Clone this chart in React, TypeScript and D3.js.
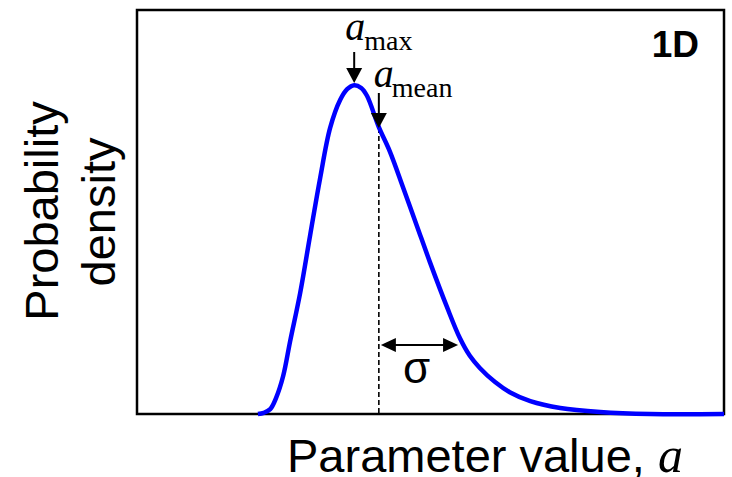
import React from "react";
import * as d3 from "d3";

// Parameter values (a) and the probability density read at each one
const paramValues = [2.06, 2.16, 2.27, 2.37, 2.49, 2.61, 2.78, 2.95, 3.12, 3.29, 3.46, 3.58, 3.7, 3.82, 3.92, 4.12, 4.31, 4.53, 4.77, 4.99, 5.28, 5.5, 5.67, 5.84, 6.1, 6.35, 6.7, 7.21, 7.89, 8.74, 10];
const densityValues = [0, 0.003, 0.012, 0.04, 0.094, 0.181, 0.3, 0.443, 0.584, 0.708, 0.777, 0.804, 0.814, 0.807, 0.787, 0.71, 0.649, 0.562, 0.465, 0.376, 0.265, 0.188, 0.144, 0.114, 0.079, 0.054, 0.032, 0.015, 0.005, 0, 0];

// Summary statistics marked on the curve
const aMax = 3.7;
const aMean = 4.12;
const sigma = 1.35;

const xDomain = [0, 10];
const yDomain = [0, 1];

const W = 732;
const H = 477;
const box = { left: 137, right: 724, top: 10, bottom: 414 };

const SANS = "'Liberation Sans', Arial, sans-serif";
const SERIF = "'Liberation Serif', 'Times New Roman', serif";

export default function App() {
  const x = d3.scaleLinear().domain(xDomain).range([box.left, box.right]);
  const y = d3.scaleLinear().domain(yDomain).range([box.bottom, box.top]);

  const points: [number, number][] = paramValues.map((a, i) => [a, densityValues[i]]);
  const line = d3
    .line<[number, number]>()
    .x((d) => x(d[0]))
    .y((d) => Math.min(y(d[1]), box.bottom))
    .curve(d3.curveCatmullRom.alpha(0.5));

  const xMax = x(aMax);
  const xMean = x(aMean);
  const xSigmaEnd = x(aMean + sigma);
  const sigmaY = 345;

  const downArrow = (cx: number, y0: number, tip: number) => (
    <g>
      <line x1={cx} x2={cx} y1={y0} y2={tip - 12} stroke="#000" strokeWidth={2} />
      <path d={`M${cx - 8},${tip - 15} L${cx + 8},${tip - 15} L${cx},${tip} Z`} fill="#000" />
    </g>
  );

  return (
    <svg
      width={W}
      height={H}
      style={{ position: "absolute", left: 0, top: 0, background: "#fff" }}
    >
      <rect x={0} y={0} width={W} height={H} fill="#fff" />

      {/* plot frame */}
      <rect
        x={box.left}
        y={box.top}
        width={box.right - box.left}
        height={box.bottom - box.top}
        fill="none"
        stroke="#000"
        strokeWidth={2.5}
      />

      {/* mean marker */}
      <line
        x1={xMean}
        x2={xMean}
        y1={128}
        y2={box.bottom}
        stroke="#000"
        strokeWidth={1.6}
        strokeDasharray="5,3"
      />

      {/* density curve */}
      <path d={line(points) ?? ""} fill="none" stroke="#0000ff" strokeWidth={4.5} strokeLinejoin="round" />

      {/* a_max label and arrow */}
      <text x={xMax - 9} y={40} fontFamily={SERIF} fontStyle="italic" fontSize={40}>
        a
      </text>
      <text x={xMax + 10} y={50} fontFamily={SERIF} fontSize={28}>
        max
      </text>
      {downArrow(xMax, 52, 83)}

      {/* a_mean label and arrow */}
      <text x={xMean - 5} y={87} fontFamily={SERIF} fontStyle="italic" fontSize={40}>
        a
      </text>
      <text x={xMean + 13} y={97} fontFamily={SERIF} fontSize={28}>
        mean
      </text>
      {downArrow(xMean, 93, 128)}

      {/* sigma double arrow */}
      <line x1={xMean + 12} x2={xSigmaEnd - 12} y1={sigmaY} y2={sigmaY} stroke="#000" strokeWidth={2} />
      <path
        d={`M${xMean + 2},${sigmaY} L${xMean + 17},${sigmaY - 7} L${xMean + 17},${sigmaY + 7} Z`}
        fill="#000"
      />
      <path
        d={`M${xSigmaEnd},${sigmaY} L${xSigmaEnd - 15},${sigmaY - 7} L${xSigmaEnd - 15},${sigmaY + 7} Z`}
        fill="#000"
      />
      <text x={(xMean + xSigmaEnd) / 2 - 2} y={383} fontFamily={SANS} fontSize={44} textAnchor="middle">
        σ
      </text>

      {/* panel tag */}
      <text x={699} y={57} fontFamily={SANS} fontWeight="bold" fontSize={37} textAnchor="end">
        1D
      </text>

      {/* axis titles */}
      <text x={287} y={472} fontFamily={SANS} fontSize={47}>
        Parameter value,{" "}
        <tspan fontFamily={SERIF} fontStyle="italic" fontSize={50}>
          a
        </tspan>
      </text>
      <g fontFamily={SANS} fontSize={47} textAnchor="middle">
        <text transform="translate(58,211) rotate(-90)">Probability</text>
        <text transform="translate(115,212) rotate(-90)">density</text>
      </g>
    </svg>
  );
}
